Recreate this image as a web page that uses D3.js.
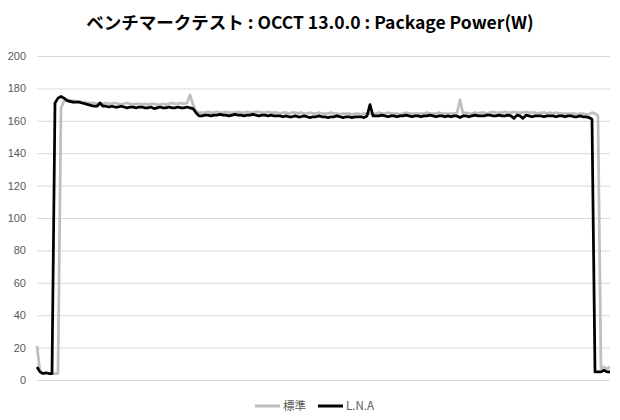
<!DOCTYPE html>
<meta charset="utf-8">
<script src="https://cdn.jsdelivr.net/npm/d3@7"></script>
<style>
  body { margin: 0; background: #fff; }
  text { font-family: "Noto Sans CJK JP", "Noto Sans", sans-serif; }
</style>
<body>
<div id="viz"></div>
<script>
var width = 620, height = 420;

var title = "ベンチマークテスト : OCCT 13.0.0 : Package Power(W)";
var seriesNames = ["標準", "L.N.A"];
var yTicks = [0, 20, 40, 60, 80, 100, 120, 140, 160, 180, 200];

// 標準
var standard = [
  21, 5, 4, 4, 4, 4, 4, 4, 168, 172, 173, 172.5, 172.5, 172, 172, 171.5, 171.5, 171, 171, 171, 170.5, 171,
  170.5, 171, 170.5, 170.5, 171, 170.5, 170, 170.5, 171, 170.5, 170, 170.5, 170.5, 170, 170.5, 170, 170.5, 170.5, 170, 170, 170.5, 170, 170.5, 171, 170.5, 170.5, 171, 170.5, 171,
  176, 170, 166, 165,
  165, 165, 165.5, 165, 165, 165.5, 165, 165, 165.5, 165, 165, 165,
  165.5, 165, 165, 165.5, 165, 165, 165.5, 165.5, 165, 165, 165.5, 165,
  165, 165, 164.5, 165, 165, 164.5, 165, 165, 164.5, 165, 164.5, 164.5,
  165, 164.5, 164.5, 165, 164.5, 164.5, 164.5, 165, 164.5, 164.5, 164, 164.5,
  164.5, 164.5, 164, 164.5, 164.5, 164, 164.5, 164.5, 164.5, 164, 164.5, 165,
  164.5, 164.5, 165, 164.5, 164.5, 164.5, 164, 164.5, 165, 164.5, 164.5, 164.5,
  164.5, 164.5, 164.5, 165, 164.5, 164.5, 164.5, 165, 164.5, 164.5, 164.5, 164.5,
  164.5, 165,
  173,
  164.5, 165, 164.5, 164.5, 165, 164.5, 165, 165, 164.5, 165, 165.5, 165,
  165, 165, 165.5, 165, 165, 165.5, 165, 165, 165, 165.5, 165, 165,
  165, 164.5, 165, 165, 164.5, 165, 164.5, 165, 164.5, 164.5, 164.5, 164.5,
  164.5, 164.5, 164, 164.5, 164.5, 164, 164, 165, 164.5, 163,
  7, 8, 7, 8
];

// L.N.A
var lna = [
  8, 5, 4, 4.5, 4, 4, 171, 174, 175, 174, 172.5, 172, 171.5, 171.5, 171.5, 171, 170.5, 170, 169.5, 169, 169,
  171, 169, 169, 168.5, 169, 168.5, 168.5, 169, 168.5, 168, 168.5, 168.5, 168, 168.5, 168.5, 168, 168, 168.5,
  167.5, 168, 168.5, 168, 168, 168.5, 168, 168, 168.5, 168, 168, 168.5, 168, 167.5, 165, 163,
  163, 163.5, 163.5, 163, 163.5, 163.5, 164, 163.5, 163.5, 163, 163.5, 164, 163.5, 163.5, 163, 163.5, 163.5, 164, 163.5, 163, 163.5, 163.5, 163, 163.5, 163, 163,
  163, 162.5, 163, 162.5, 162.5, 163, 162.5, 162.5, 163, 162.5, 162, 162.5, 162.5, 163, 162.5, 162.5, 162, 162.5, 162.5, 163, 162.5, 162, 162.5, 162.5, 162, 162.5, 162.5, 162.5, 162, 163,
  170, 163,
  163, 163, 163.5, 163, 162.5, 163, 163, 162.5, 163, 163, 163.5, 163,
  162.5, 163, 163, 162.5, 163, 163, 163.5, 163, 162.5, 163, 163, 162.5,
  163, 162.5, 163, 163, 162, 163, 163, 162.5, 163, 163.5, 163, 163,
  163, 163.5, 163.5, 163, 163, 163.5, 163, 163, 163.5, 163, 161.5, 163.5,
  163, 161.5, 163.5, 163, 162.5, 163, 163, 163, 162.5, 163, 163, 163,
  162.5, 163, 163, 162.5, 163, 163, 162.5, 162.5, 163, 162.5, 162.5, 162,
  161, 5, 5, 5, 6, 5, 5
];

var margin = { left: 37, right: 10, top: 56, bottom: 40 };

var svg = d3.select("#viz").append("svg")
  .attr("width", width)
  .attr("height", height);

var x = d3.scaleLinear()
  .domain([0, lna.length - 1])
  .range([margin.left, width - margin.right]);

var y = d3.scaleLinear()
  .domain([0, 200])
  .range([height - margin.bottom, margin.top]);

svg.append("text")
  .attr("x", width / 2)
  .attr("y", 29)
  .attr("text-anchor", "middle")
  .attr("font-size", 17.5)
  .attr("font-weight", "bold")
  .attr("fill", "#000")
  .text(title);

// gridlines + y labels
var yAxis = d3.axisLeft(y)
  .tickValues(yTicks)
  .tickSize(-(width - margin.left - margin.right))
  .tickPadding(11);

var gy = svg.append("g")
  .attr("transform", "translate(" + margin.left + ",0)")
  .call(yAxis);
gy.select(".domain").remove();
gy.selectAll(".tick line").attr("stroke", "#d9d9d9");
gy.selectAll(".tick text")
  .attr("fill", "#595959")
  .attr("font-size", 11)
  .style("font-family", "'Liberation Sans', Arial, sans-serif");

var line = d3.line()
  .x(function(d, i) { return x(i); })
  .y(function(d) { return y(d); });

var series = [
  { name: seriesNames[0], values: standard, color: "#bfbfbf" },
  { name: seriesNames[1], values: lna, color: "#000000" }
];

svg.selectAll(".series")
  .data(series)
  .enter()
  .append("path")
  .attr("class", "series")
  .attr("fill", "none")
  .attr("stroke", function(d) { return d.color; })
  .attr("stroke-width", 2.75)
  .attr("stroke-linejoin", "round")
  .attr("d", function(d) { return line(d.values); });

// legend
var legend = svg.append("g")
  .attr("transform", "translate(255,406)");

var items = legend.selectAll("g")
  .data(series)
  .enter()
  .append("g")
  .attr("transform", function(d, i) { return "translate(" + (i * 63) + ",0)"; });

items.append("line")
  .attr("x1", 0).attr("x2", 25)
  .attr("stroke", function(d) { return d.color; })
  .attr("stroke-width", 3);

items.append("text")
  .attr("x", 28)
  .attr("y", 4)
  .attr("font-size", 11.5)
  .attr("fill", "#595959")
  .text(function(d) { return d.name; });
</script>
</body>
